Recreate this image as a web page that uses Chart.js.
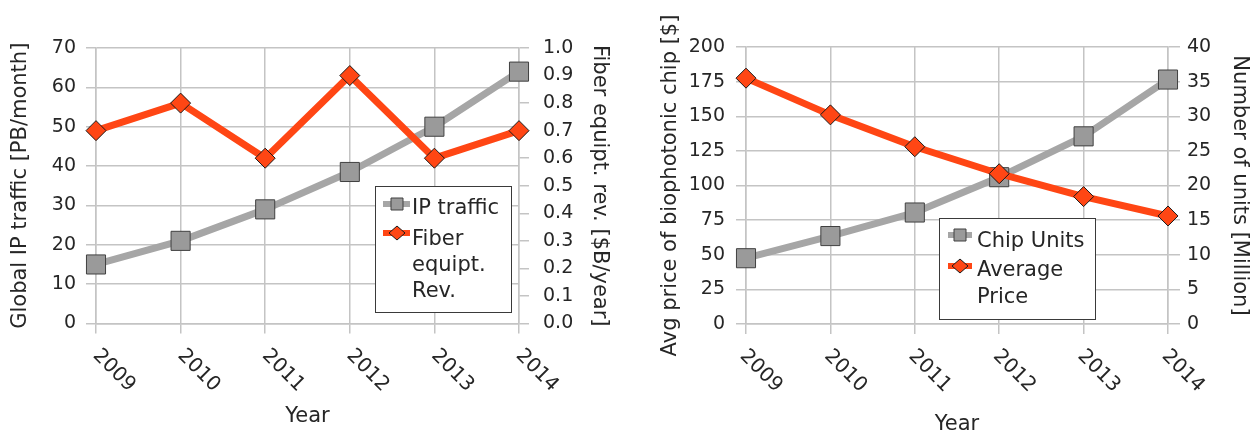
<!DOCTYPE html>
<html><head><meta charset="utf-8">
<script src="https://cdn.jsdelivr.net/npm/chart.js@4.4.1/dist/chart.umd.min.js"></script>
<style>
html,body{margin:0;padding:0;background:#fff;}
#wrap{position:relative;width:1259px;height:434px;overflow:hidden;}
canvas{position:absolute;top:0;}
#c1{left:0;}
#c2{left:630px;}
</style></head><body>
<div id="wrap"><canvas id="c1" width="630" height="434"></canvas><canvas id="c2" width="629" height="434"></canvas></div>
<script>
// ---- data ----
const years = ['2009', '2010', '2011', '2012', '2013', '2014'];
const ipTraffic = [15, 21, 29, 38.5, 50, 64];          // PB/month (left axis)
const fiberRev = [0.7, 0.8, 0.6, 0.9, 0.6, 0.7];       // $B/year (right axis)
const chipUnits = [9.5, 12.7, 16.1, 21.2, 27.1, 35.3]; // Million (right axis)
const avgPrice = [177.5, 151, 128, 108.5, 92, 78];     // $ (left axis)
const ipLegend = ['IP traffic'];
const fiberLegend = ['Fiber', 'equipt.', 'Rev.'];
const chipLegend = ['Chip Units'];
const priceLegend = ['Average', 'Price'];

// ---- style ----
const F = "'DejaVu Sans', sans-serif";
const TXT = '#262626';
const GRID = '#c4c4c4';
const GRAY_LINE = '#a6a6a6';
const GRAY_PT = '#9a9a9a';
const ORANGE = '#ff4614';

const xLabelPlugin = {
  id: 'xLabels',
  afterDraw(chart, args, o) {
    const ctx = chart.ctx, xs = chart.scales.x;
    ctx.save();
    ctx.font = '20px ' + F;
    ctx.fillStyle = TXT;
    ctx.textAlign = 'left';
    ctx.textBaseline = 'middle';
    chart.data.labels.forEach((lab, i) => {
      const x = xs.getPixelForValue(i);
      ctx.save();
      ctx.translate(x + o.dx, xs.top + o.dy);
      ctx.rotate(Math.PI / 4);
      ctx.fillText(lab, 0, 0);
      ctx.restore();
    });
    ctx.restore();
  }
};

const boxLegendPlugin = {
  id: 'boxLegend',
  afterDraw(chart, args, o) {
    const ctx = chart.ctx;
    ctx.save();
    ctx.fillStyle = '#fff';
    ctx.fillRect(o.x, o.y, o.w, o.h);
    ctx.strokeStyle = '#3a3a3a';
    ctx.lineWidth = 1;
    ctx.strokeRect(o.x + 0.5, o.y + 0.5, o.w, o.h);
    o.items.forEach(it => {
      ctx.strokeStyle = it.line;
      ctx.lineWidth = 6;
      ctx.beginPath();
      ctx.moveTo(o.x + o.s0, it.my);
      ctx.lineTo(o.x + o.s1, it.my);
      ctx.stroke();
      const cx = o.x + o.mx;
      ctx.fillStyle = it.fill;
      ctx.strokeStyle = it.edge;
      ctx.lineWidth = 1;
      ctx.beginPath();
      if (it.style === 'rect') {
        ctx.rect(cx - 6, it.my - 6, 12, 12);
      } else {
        ctx.moveTo(cx - 8, it.my); ctx.lineTo(cx, it.my - 7);
        ctx.lineTo(cx + 8, it.my); ctx.lineTo(cx, it.my + 7);
        ctx.closePath();
      }
      ctx.fill(); ctx.stroke();
      ctx.font = '21px ' + F;
      ctx.fillStyle = TXT;
      ctx.textAlign = 'left';
      ctx.textBaseline = 'alphabetic';
      it.text.forEach((t, i) => ctx.fillText(t, o.x + o.tx, it.base + i * o.lh));
    });
    ctx.restore();
  }
};

function yTitle(text, pad) {
  return { display: true, text, color: TXT, font: { family: F, size: 21 }, padding: { top: pad, bottom: 0 } };
}
function tickFont() { return { family: F, size: 19 }; }

function lineSet(label, data, axis, kind, order) {
  const isRect = kind === 'rect';
  return {
    label, data, yAxisID: axis, order,
    borderColor: isRect ? GRAY_LINE : ORANGE,
    borderWidth: 7,
    borderJoinStyle: 'round',
    tension: 0,
    pointStyle: isRect ? 'rect' : 'rectRot',
    pointRadius: isRect ? 13.5 : 10,
    pointBackgroundColor: isRect ? GRAY_PT : ORANGE,
    pointBorderColor: isRect ? '#404040' : '#1a1a1a',
    pointBorderWidth: 1
  };
}

function makeChart(id, cfg) {
  return new Chart(document.getElementById(id), {
    type: 'line',
    data: { labels: years, datasets: cfg.datasets },
    plugins: [xLabelPlugin, boxLegendPlugin],
    options: {
      responsive: false,
      animation: false,
      events: [],
      layout: { padding: cfg.padding },
      plugins: {
        legend: { display: false },
        tooltip: { enabled: false },
        xLabels: cfg.xl,
        boxLegend: cfg.legend
      },
      scales: {
        x: {
          type: 'category', offset: false,
          grid: { color: GRID, lineWidth: 1.5, tickLength: 10 },
          border: { color: GRID, width: 1.5 },
          ticks: { display: false },
          title: { display: true, text: 'Year', color: TXT, font: { family: F, size: 21 }, padding: { top: 0, bottom: cfg.xTitlePad } },
          afterFit(s) { s.height = cfg.xh; }
        },
        y: {
          position: 'left', min: cfg.yl.min, max: cfg.yl.max,
          ticks: { stepSize: cfg.yl.step, padding: cfg.yl.pad, color: TXT, font: tickFont(), callback: cfg.yl.fmt },
          grid: { color: GRID, lineWidth: 1.5, tickLength: 10 },
          border: { color: GRID, width: 1.5 },
          title: yTitle(cfg.yl.title, cfg.yl.tpad),
          afterFit(s) { s.width = cfg.yl.w; }
        },
        y1: {
          position: 'right', min: cfg.yr.min, max: cfg.yr.max,
          ticks: { stepSize: cfg.yr.step, padding: cfg.yr.pad, color: TXT, font: tickFont(), callback: cfg.yr.fmt },
          grid: { drawOnChartArea: false, color: GRID, lineWidth: 1.5, tickLength: cfg.yr.tl },
          border: { color: GRID, width: 1.5 },
          title: yTitle(cfg.yr.title, cfg.yr.tpad),
          afterFit(s) { s.width = cfg.yr.w; }
        }
      }
    }
  });
}

makeChart('c1', {
  datasets: [
    lineSet('IP traffic', ipTraffic, 'y', 'rect', 2),
    lineSet('Fiber equipt. Rev.', fiberRev, 'y1', 'diamond', 1)
  ],
  padding: { top: 48, left: 0, right: 10, bottom: 1 },
  xh: 109.5, xTitlePad: 4,
  xl: { dx: 0, dy: 29 },
  yl: { min: 0, max: 70, step: 10, pad: 10, w: 96, tpad: 8, title: 'Global IP traffic [PB/month]', fmt: v => v },
  yr: { min: 0, max: 1, step: 0.1, pad: 14, tl: 10, w: 101, tpad: 8, title: 'Fiber equipt. rev. [$B/year]', fmt: v => Number(v).toFixed(1) },
  legend: {
    x: 375, y: 186, w: 136, h: 126, s0: 8, s1: 35, mx: 22, tx: 37, lh: 26,
    items: [
      { line: GRAY_LINE, fill: GRAY_PT, edge: '#404040', style: 'rect', my: 204, base: 214, text: ipLegend },
      { line: ORANGE, fill: ORANGE, edge: '#1a1a1a', style: 'diamond', my: 233, base: 245, text: fiberLegend }
    ]
  }
});

makeChart('c2', {
  datasets: [
    lineSet('Chip Units', chipUnits, 'y1', 'rect', 2),
    lineSet('Average Price', avgPrice, 'y', 'diamond', 1)
  ],
  padding: { top: 47, left: 20, right: 5, bottom: 0 },
  xh: 110, xTitlePad: -3,
  xl: { dx: -3, dy: 29 },
  yl: { min: 0, max: 200, step: 25, pad: 11, w: 96, tpad: 8, title: 'Avg price of biophotonic chip [$]', fmt: v => v },
  yr: { min: 0, max: 40, step: 5, pad: 7, tl: 12, w: 86, tpad: 2, title: 'Number of units [Million]', fmt: v => v },
  legend: {
    x: 309, y: 218, w: 156, h: 101, s0: 9, s1: 33, mx: 21, tx: 38, lh: 27,
    items: [
      { line: GRAY_LINE, fill: GRAY_PT, edge: '#404040', style: 'rect', my: 235, base: 247, text: chipLegend },
      { line: ORANGE, fill: ORANGE, edge: '#1a1a1a', style: 'diamond', my: 266, base: 276, text: priceLegend }
    ]
  }
});
</script>
</body></html>
